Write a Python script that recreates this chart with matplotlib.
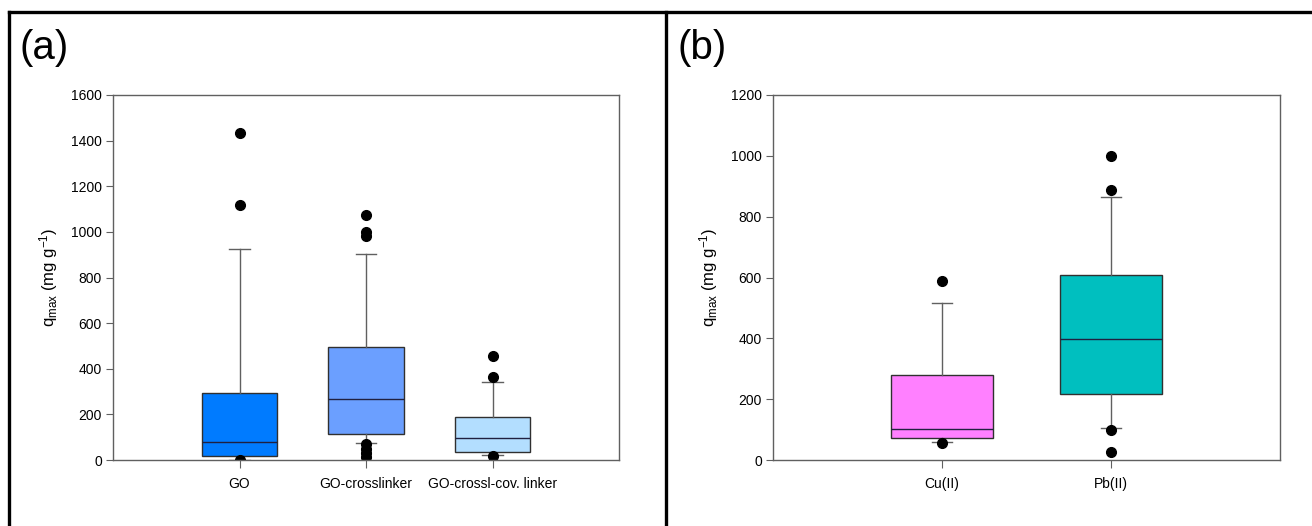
import matplotlib
matplotlib.use("Agg")
import matplotlib.pyplot as plt
from matplotlib.lines import Line2D

plt.rcParams['font.family'] = ['Liberation Sans', 'DejaVu Sans']
plt.rcParams['mathtext.default'] = 'regular'

# panel (a): adsorbent type
labels_a = ["GO", "GO-crosslinker", "GO-crossl-cov. linker"]
q1_a = [18, 112, 36]
med_a = [77, 267, 96]
q3_a = [293, 495, 188]
whislo_a = [2, 74, 21]
whishi_a = [925, 904, 344]
fliers_a = [[1434, 1118, 0], [1075, 1000, 980, 70, 48, 30, 15], [458, 363, 18]]
colors_a = ["#007BFF", "#6B9FFF", "#B3DEFF"]

# panel (b): metal ion
labels_b = ["Cu(II)", "Pb(II)"]
q1_b = [72, 217]
med_b = [101, 399]
q3_b = [278, 609]
whislo_b = [60, 105]
whishi_b = [516, 866]
fliers_b = [[587, 57], [1000, 888, 98, 27]]
colors_b = ["#FF80FF", "#00BFBF"]

W, H = 1312, 526
fig = plt.figure(figsize=(W / 100, H / 100), dpi=100)


def px_axes(l, t, r, b):
    return fig.add_axes([l / W, 1 - b / H, (r - l) / W, (b - t) / H])


def draw_box(ax, labels, q1, med, q3, lo, hi, fl, colors, capw, ymax, ystep):
    stats = []
    for i in range(len(labels)):
        stats.append(dict(label=labels[i], q1=q1[i], med=med[i], q3=q3[i],
                          whislo=lo[i], whishi=hi[i], fliers=fl[i]))
    pos = list(range(1, len(labels) + 1))
    bp = ax.bxp(stats, positions=pos, widths=0.6, patch_artist=True,
                capwidths=capw,
                boxprops=dict(edgecolor="#303030", linewidth=1.0),
                medianprops=dict(color="#202040", linewidth=1.0),
                whiskerprops=dict(color="#606060", linewidth=1.0),
                capprops=dict(color="#606060", linewidth=1.0),
                flierprops=dict(marker="o", markerfacecolor="black",
                                markeredgecolor="black", markersize=7))
    for patch, c in zip(bp["boxes"], colors):
        patch.set_facecolor(c)
    ax.set_xlim(0, len(labels) + 1)
    ax.set_ylim(0, ymax)
    ax.set_yticks(range(0, ymax + 1, ystep))
    ax.set_xticks(pos)
    ax.set_xticklabels(labels, fontsize=10)
    ax.tick_params(axis="y", labelsize=10, length=5, color="#606060", pad=3)
    ax.tick_params(axis="x", length=6, color="#606060", pad=6)
    for s in ax.spines.values():
        s.set_color("#606060")
        s.set_linewidth(1.0)
    ax.set_ylabel(r"q$_{max}$ (mg g$^{-1}$)", fontsize=12, labelpad=8)


ax1 = px_axes(113, 95, 619, 460)
draw_box(ax1, labels_a, q1_a, med_a, q3_a, whislo_a, whishi_a, fliers_a,
         colors_a, 0.165, 1600, 200)

ax2 = px_axes(773, 95, 1280, 460)
draw_box(ax2, labels_b, q1_b, med_b, q3_b, whislo_b, whishi_b, fliers_b,
         colors_b, 0.123, 1200, 200)

# panel frames
lw = 2.4
fig.add_artist(Line2D([9 / W, 1], [1 - 12 / H, 1 - 12 / H], color="black", lw=lw))
fig.add_artist(Line2D([9 / W, 9 / W], [0, 1 - 12 / H], color="black", lw=lw))
fig.add_artist(Line2D([666 / W, 666 / W], [0, 1 - 12 / H], color="black", lw=lw))

fig.text(19 / W, 1 - 48 / H, "(a)", fontsize=29, va="center", ha="left")
fig.text(677 / W, 1 - 48 / H, "(b)", fontsize=29, va="center", ha="left")

fig.savefig("out.png", dpi=100)
